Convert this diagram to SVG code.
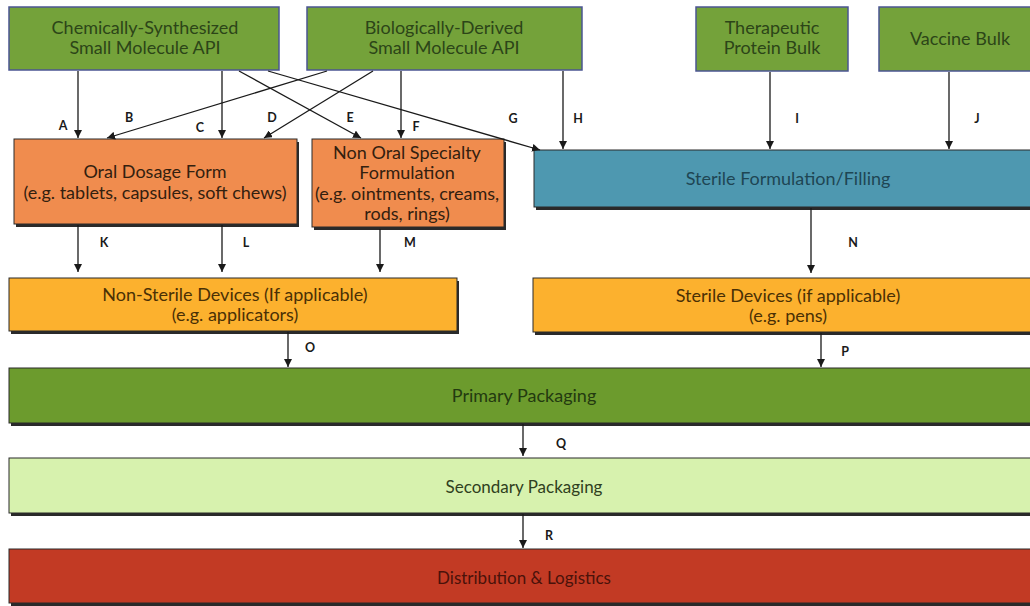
<svg xmlns="http://www.w3.org/2000/svg" width="1030" height="606" viewBox="0 0 1030 606">
  <defs>
    <marker id="arrow" viewBox="0 0 10 10" refX="10" refY="5" markerWidth="8" markerHeight="8" markerUnits="userSpaceOnUse" orient="auto">
      <path d="M0,0 L10,5 L0,10 z" fill="#1a1a1a"/>
    </marker>
    <style>
      .src { fill: #74a23a; stroke: #4b5592; stroke-width: 1.5; }
      .shadow { fill: #2a2a2a; }
      .box { stroke: #2a2a2a; stroke-width: 1; }
      .orange { fill: #f08c4e; }
      .teal { fill: #4e98b0; }
      .amber { fill: #fcb12e; }
      .prim { fill: #6c9b2d; }
      .sec { fill: #d7f2ae; }
      .red { fill: #c23a24; }
      text { font-family: "Lato", "Liberation Sans", sans-serif; font-size: 18px; text-anchor: middle; }
      .t-green { fill: #2c4518; }
      .t-orange { fill: #33200f; }
      .t-teal { fill: #1e4654; }
      .t-amber { fill: #4a3005; }
      .t-prim { fill: #233a10; }
      .t-sec { fill: #2f4020; font-size: 17px; }
      .t-red { fill: #4a120a; font-size: 17px; }
      .lbl { font-family: "Lato", "Liberation Sans", sans-serif; font-weight: bold; font-size: 12.5px; fill: #1a1a1a; }
      .edge { stroke: #1a1a1a; stroke-width: 1.3; fill: none; marker-end: url(#arrow); }
    </style>
  </defs>

  <rect width="1030" height="606" fill="#ffffff"/>

  <!-- source materials -->
  <g id="chem-api">
    <rect class="src" x="9" y="7" width="270" height="63"/>
    <text class="t-green" x="145" y="34">Chemically-Synthesized</text>
    <text class="t-green" x="145" y="54">Small Molecule API</text>
  </g>
  <g id="bio-api">
    <rect class="src" x="307" y="7" width="275" height="63"/>
    <text class="t-green" x="444" y="34">Biologically-Derived</text>
    <text class="t-green" x="444" y="54">Small Molecule API</text>
  </g>
  <g id="protein-bulk">
    <rect class="src" x="696" y="7" width="152" height="64"/>
    <text class="t-green" x="772" y="34">Therapeutic</text>
    <text class="t-green" x="772" y="54">Protein Bulk</text>
  </g>
  <g id="vaccine-bulk">
    <rect class="src" x="879" y="7" width="155" height="64"/>
    <text class="t-green" x="960" y="45">Vaccine Bulk</text>
  </g>

  <!-- formulation -->
  <g id="oral-dosage">
    <rect class="shadow" x="16" y="142" width="283" height="85"/>
    <rect class="box orange" x="14" y="139" width="283" height="85"/>
    <text class="t-orange" x="155" y="178">Oral Dosage Form</text>
    <text class="t-orange" x="155" y="199">(e.g. tablets, capsules, soft chews)</text>
  </g>
  <g id="non-oral">
    <rect class="shadow" x="314" y="142" width="192" height="88"/>
    <rect class="box orange" x="312" y="139" width="192" height="88"/>
    <text class="t-orange" x="407" y="159">Non Oral Specialty</text>
    <text class="t-orange" x="407" y="179">Formulation</text>
    <text class="t-orange" x="407" y="200">(e.g. ointments, creams,</text>
    <text class="t-orange" x="407" y="220">rods, rings)</text>
  </g>
  <g id="sterile-filling">
    <rect class="shadow" x="536" y="153" width="500" height="57"/>
    <rect class="box teal" x="534" y="150" width="500" height="57"/>
    <text class="t-teal" x="788" y="185">Sterile Formulation/Filling</text>
  </g>

  <!-- devices -->
  <g id="non-sterile-devices">
    <rect class="shadow" x="11" y="281" width="448" height="53"/>
    <rect class="box amber" x="9" y="278" width="448" height="53"/>
    <text class="t-amber" x="235" y="301">Non-Sterile Devices (If applicable)</text>
    <text class="t-amber" x="235" y="321">(e.g. applicators)</text>
  </g>
  <g id="sterile-devices">
    <rect class="shadow" x="535" y="281" width="500" height="54"/>
    <rect class="box amber" x="533" y="278" width="500" height="54"/>
    <text class="t-amber" x="788" y="302">Sterile Devices (if applicable)</text>
    <text class="t-amber" x="788" y="322">(e.g. pens)</text>
  </g>

  <!-- packaging and distribution -->
  <g id="primary-packaging">
    <rect class="shadow" x="11" y="371" width="1025" height="55"/>
    <rect class="box prim" x="9" y="368" width="1025" height="55"/>
    <text class="t-prim" x="524" y="402">Primary Packaging</text>
  </g>
  <g id="secondary-packaging">
    <rect class="shadow" x="11" y="461" width="1025" height="55"/>
    <rect class="box sec" x="9" y="458" width="1025" height="55"/>
    <text class="t-sec" x="524" y="493">Secondary Packaging</text>
  </g>
  <g id="distribution">
    <rect class="shadow" x="11" y="552" width="1025" height="54"/>
    <rect class="box red" x="9" y="549" width="1025" height="54"/>
    <text class="t-red" x="524" y="584">Distribution &amp; Logistics</text>
  </g>

  <!-- connectors -->
  <g id="connectors">
    <line class="edge" x1="78" y1="71" x2="78" y2="138"/>
    <line class="edge" x1="327" y1="71" x2="107" y2="138"/>
    <line class="edge" x1="222" y1="71" x2="222" y2="138"/>
    <line class="edge" x1="373" y1="71" x2="264" y2="138"/>
    <line class="edge" x1="239" y1="71" x2="361" y2="138"/>
    <line class="edge" x1="401" y1="71" x2="401" y2="138"/>
    <line class="edge" x1="268" y1="71" x2="540" y2="150"/>
    <line class="edge" x1="563" y1="71" x2="563" y2="149"/>
    <line class="edge" x1="770" y1="72" x2="770" y2="149"/>
    <line class="edge" x1="949" y1="72" x2="949" y2="149"/>
    <line class="edge" x1="78" y1="225" x2="78" y2="272"/>
    <line class="edge" x1="222" y1="225" x2="222" y2="272"/>
    <line class="edge" x1="380" y1="229" x2="380" y2="272"/>
    <line class="edge" x1="811" y1="208" x2="811" y2="273"/>
    <line class="edge" x1="288" y1="332" x2="288" y2="367"/>
    <line class="edge" x1="821" y1="333" x2="821" y2="367"/>
    <line class="edge" x1="523" y1="424" x2="523" y2="456"/>
    <line class="edge" x1="523" y1="514" x2="523" y2="548"/>

    <text class="lbl" x="63" y="130">A</text>
    <text class="lbl" x="129" y="122">B</text>
    <text class="lbl" x="200" y="132">C</text>
    <text class="lbl" x="272" y="122">D</text>
    <text class="lbl" x="350" y="122">E</text>
    <text class="lbl" x="416" y="131">F</text>
    <text class="lbl" x="513" y="123">G</text>
    <text class="lbl" x="578" y="123">H</text>
    <text class="lbl" x="797" y="123">I</text>
    <text class="lbl" x="977" y="123">J</text>
    <text class="lbl" x="104" y="247">K</text>
    <text class="lbl" x="246" y="247">L</text>
    <text class="lbl" x="410" y="247">M</text>
    <text class="lbl" x="853" y="247">N</text>
    <text class="lbl" x="310" y="352">O</text>
    <text class="lbl" x="845" y="356">P</text>
    <text class="lbl" x="561" y="448">Q</text>
    <text class="lbl" x="549" y="540">R</text>
  </g>
</svg>
